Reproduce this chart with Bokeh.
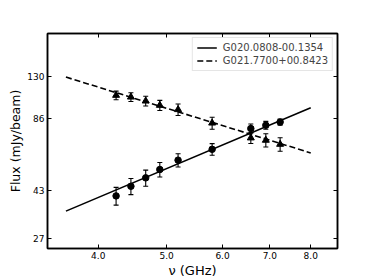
from bokeh.plotting import figure
from bokeh.models import (FixedTicker, LogAxis, Whisker, TeeHead, ColumnDataSource,
                          Legend, LegendItem, CustomJSTickFormatter)
from bokeh.embed import file_html
from bokeh.resources import INLINE

# ---- data ----
freq = [4.24, 4.45, 4.67, 4.89, 5.19, 5.80, 6.58, 6.91, 7.24]
flux_a = [40.8, 44.8, 48.6, 52.7, 57.7, 64.1, 78.4, 80.9, 83.5]
err_a = [3.5, 3.5, 3.8, 3.7, 3.7, 3.6, 3.5, 3.1, 2.5]
flux_b = [108.2, 106.4, 102.4, 98.2, 94.2, 82.7, 71.6, 70.0, 67.3]
err_b = [4.5, 4.5, 4.8, 4.8, 5.3, 4.8, 3.8, 4.5, 4.4]
fit_nu = [3.6, 8.0]
fit_a = [35.2, 96.0]
fit_b = [129.1, 61.9]
name_a = "G020.0808-00.1354"
name_b = "G021.7700+00.8423"
xticks = [4, 5, 6, 7, 8]
yticks = [27, 43, 86, 130]

FONT = "DejaVu Sans"

p = figure(width=374, height=280, x_axis_type="log", y_axis_type="log",
           x_range=(3.39, 8.73), y_range=(24.5, 197),
           output_backend="svg", toolbar_location=None,
           min_border_left=47, min_border_right=37, min_border_top=33,
           min_border_bottom=32)
p.grid.visible = False
p.outline_line_color = "black"
p.outline_line_width = 1.5
p.background_fill_color = "white"
p.border_fill_color = "white"

def style_axis(ax, ticks):
    ax.ticker = FixedTicker(ticks=ticks)
    ax.major_tick_in = 4
    ax.major_tick_out = 0
    ax.major_tick_line_width = 1
    ax.minor_tick_line_color = None
    ax.axis_line_width = 1.5
    ax.axis_line_color = "black"
    ax.major_label_text_font = FONT
    ax.major_label_text_font_size = "9px"
    ax.major_label_text_color = "black"

style_axis(p.xaxis[0], xticks)
style_axis(p.yaxis[0], yticks)
p.xaxis[0].formatter = CustomJSTickFormatter(code="return tick.toFixed(1);")
p.yaxis[0].formatter = CustomJSTickFormatter(code="return tick.toFixed(0);")
p.xaxis[0].major_label_standoff = 3
p.yaxis[0].major_label_standoff = 3
p.xaxis[0].axis_label = "\u03bd (GHz)"
p.yaxis[0].axis_label = "Flux (mJy/beam)"
for ax in (p.xaxis[0], p.yaxis[0]):
    ax.axis_label_text_font = FONT
    ax.axis_label_text_font_style = "normal"
    ax.axis_label_text_color = "black"
p.xaxis[0].axis_label_text_font_size = "13px"
p.yaxis[0].axis_label_text_font_size = "12.5px"
p.xaxis[0].axis_label_standoff = 1
p.yaxis[0].axis_label_standoff = 1

top_ax = LogAxis()
style_axis(top_ax, xticks)
top_ax.formatter = CustomJSTickFormatter(code="return '';")
top_ax.major_label_text_font_size = "0px"
p.add_layout(top_ax, "above")
right_ax = LogAxis()
style_axis(right_ax, yticks)
right_ax.formatter = CustomJSTickFormatter(code="return '';")
right_ax.major_label_text_font_size = "0px"
p.add_layout(right_ax, "right")

src_a = ColumnDataSource(dict(nu=freq, f=flux_a,
                              lo=[f - e for f, e in zip(flux_a, err_a)],
                              hi=[f + e for f, e in zip(flux_a, err_a)]))
src_b = ColumnDataSource(dict(nu=freq, f=flux_b,
                              lo=[f - e for f, e in zip(flux_b, err_b)],
                              hi=[f + e for f, e in zip(flux_b, err_b)]))

la = p.line(fit_nu, fit_a, line_color="black", line_width=1.6)
lb = p.line(fit_nu, fit_b, line_color="black", line_width=1.6, line_dash="6 3")

for src in (src_a, src_b):
    w = Whisker(source=src, base="nu", lower="lo", upper="hi", dimension="height",
                line_color="black", line_width=1.1,
                upper_head=TeeHead(size=5, line_color="black", line_width=1.1),
                lower_head=TeeHead(size=5, line_color="black", line_width=1.1))
    p.add_layout(w)

p.scatter("nu", "f", source=src_a, marker="circle", size=6.5, color="black")
p.scatter("nu", "f", source=src_b, marker="triangle", size=7, color="black")

legend = Legend(items=[LegendItem(label=name_a, renderers=[la]),
                       LegendItem(label=name_b, renderers=[lb])],
                location="top_right", margin=4, padding=4, spacing=2,
                label_text_font=FONT, label_text_font_size="10px",
                label_height=11, glyph_height=11, glyph_width=20,
                label_standoff=6,
                border_line_color="#cccccc", border_line_width=1,
                background_fill_color="white", background_fill_alpha=0.8)
p.add_layout(legend)

open("out.html", "w").write(file_html(p, INLINE))
